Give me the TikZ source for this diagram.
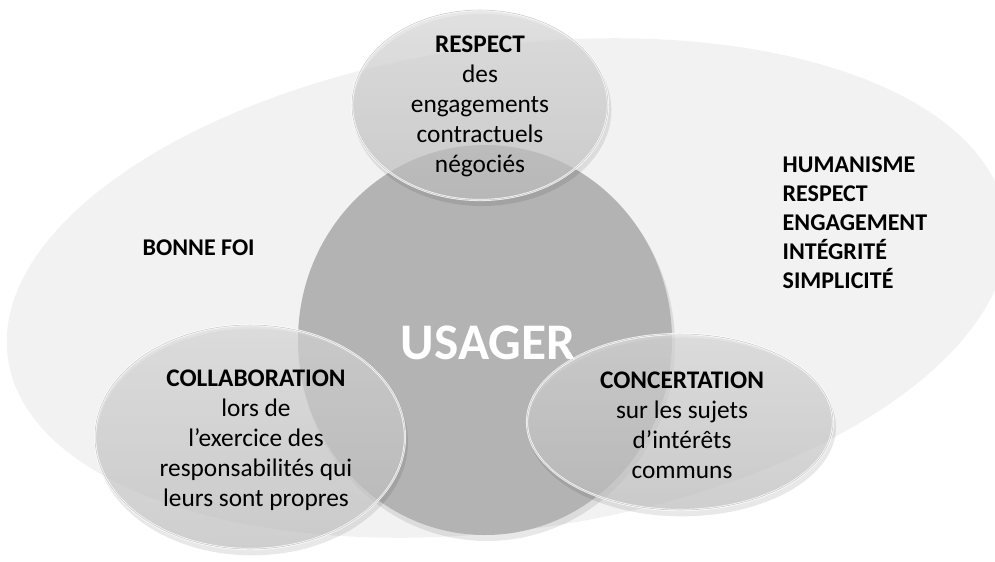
\documentclass[tikz,border=0pt]{standalone}
\usepackage{fontspec}
\setmainfont{Carlito}
\usetikzlibrary{shapes.geometric}
\definecolor{bgell}{HTML}{F2F2F2}
\definecolor{core}{HTML}{B3B3B3}
\definecolor{bubtop}{HTML}{DCDCDC}
\definecolor{bubbot}{HTML}{C2C2C2}
\begin{document}
\begin{tikzpicture}[x=0.75pt,y=-0.75pt,
  oval/.style={ellipse, inner sep=0pt},
  bubble/.style={oval, top color=bubtop, bottom color=bubbot, fill opacity=0.68,
    draw=white, draw opacity=0.85, line width=1.6pt},
  bubshadow/.style={oval, fill=black, fill opacity=0.09},
  rim/.style={oval, draw=gray!70, line width=0.4pt, draw opacity=0.6},
  body/.style={font=\fontsize{19}{22.5}\selectfont, align=center, text=black},
  value/.style={font=\fontsize{18}{21.75}\selectfont\bfseries, align=left, text=black}]
\useasboundingbox (0,0) rectangle (995,561);
% background ellipse
\node[oval, fill=bgell, minimum width=756pt, minimum height=363pt, rotate=8] (bg) at (507,288) {};
% central circle
\node[bubshadow, minimum width=282pt, minimum height=294pt] (coresh) at (487,345) {};
\node[oval, fill=core, minimum width=280.5pt, minimum height=292.5pt] (core) at (485,340) {};
% shadows of bubbles
\node[bubshadow, minimum width=194pt, minimum height=144pt] (topsh) at (482,110) {};
\node[bubshadow, minimum width=234pt, minimum height=170pt] (leftsh) at (252,442) {};
\node[bubshadow, minimum width=231pt, minimum height=134pt] (rightsh) at (682,427) {};
% bubbles
\node[bubble, minimum width=192pt, minimum height=142.5pt] (top) at (480,105) {};
\node[rim, minimum width=192pt, minimum height=142.5pt] (toprim) at (480,105) {};
\node[bubble, minimum width=232.5pt, minimum height=168pt] (left) at (250,437) {};
\node[rim, minimum width=232.5pt, minimum height=168pt] (leftrim) at (250,437) {};
\node[bubble, minimum width=229.5pt, minimum height=132pt] (right) at (680,422) {};
\node[rim, minimum width=229.5pt, minimum height=132pt] (rightrim) at (680,422) {};
% texts
\node[body] (ttop) at (480,106) {\textbf{RESPECT}\\des\\engagements\\contractuels\\négociés};
\node[body] (tleft) at (256,440) {\textbf{COLLABORATION}\\lors de\\l’exercice des\\responsabilités qui\\leurs sont propres};
\node[body] (tright) at (682,425) {\textbf{CONCERTATION}\\sur les sujets\\d’intérêts\\communs};
\node[value, anchor=west] (bonne) at (138,248) {BONNE FOI};
\node[value, anchor=west] (values) at (778,223) {HUMANISME\\RESPECT\\ENGAGEMENT\\INTÉGRITÉ\\SIMPLICITÉ};
\node[font=\fontsize{38.5}{40}\selectfont\bfseries, text=white] (usager) at (488,343) {USAGER};
\end{tikzpicture}
\end{document}
